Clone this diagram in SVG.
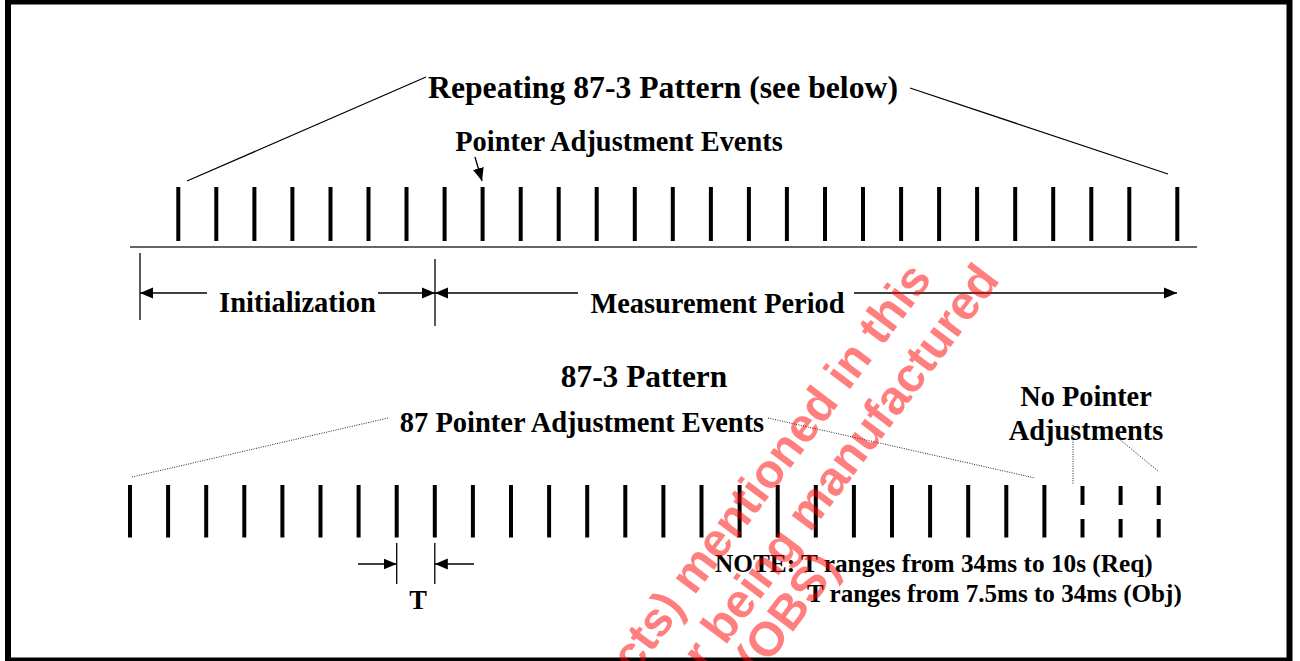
<svg xmlns="http://www.w3.org/2000/svg" width="1300" height="661" viewBox="0 0 1300 661">
<style>
  .lbl { font-family: "Liberation Serif", "Times New Roman", serif; font-weight: bold; fill: #000; }
  .tick { stroke: #000; stroke-width: 4; fill: none; }
  .thin { stroke: #000; stroke-width: 1.3; fill: none; }
  .axis { stroke: #333; stroke-width: 1.6; fill: none; }
  .dot { stroke: #222; stroke-width: 1; stroke-dasharray: 1 1.4; fill: none; }
  .wm { font-family: "Liberation Sans", Arial, sans-serif; font-weight: bold; font-size: 48px; fill: #ff0000; fill-opacity: 0.5; }
</style>
<defs>
  <marker id="ah" markerUnits="userSpaceOnUse" markerWidth="13" markerHeight="12" refX="13" refY="6" orient="auto">
    <path d="M0,0.5 L13,6 L0,11.5 z" fill="#000"/>
  </marker>
</defs>
<rect x="0" y="0" width="1300" height="661" fill="#fff"/>
<rect id="frame" x="8" y="1.5" width="1281.5" height="659" fill="none" stroke="#000" stroke-width="6"/>

<g id="top-ticks">
  <path class="tick" d="M178.3 187V241M216.3 187V241M254.4 187V241M292.4 187V241M330.5 187V241M368.5 187V241M406.5 187V241M444.6 187V241M482.6 187V241M520.7 187V241M558.7 187V241M596.7 187V241M634.8 187V241M672.8 187V241M710.9 187V241M748.9 187V241M786.9 187V241M825 187V241M863 187V241M901.1 187V241M939.1 187V241M977.1 187V241M1015.2 187V241M1053.2 187V241M1091.3 187V241M1129.3 187V241M1177.3 187V241"/>
  <line class="axis" x1="130" y1="247" x2="1197" y2="247"/>
</g>

<g id="title">
  <text class="lbl" x="663" y="97.5" font-size="31.7" text-anchor="middle">Repeating 87-3 Pattern (see below)</text>
</g>
<g id="pointer-label">
  <text class="lbl" x="619" y="151" font-size="28.4" text-anchor="middle">Pointer Adjustment Events</text>
</g>
<g id="initialization">
  <text class="lbl" x="297.5" y="312" font-size="28.5" text-anchor="middle">Initialization</text>
</g>
<g id="measurement">
  <text class="lbl" x="717.5" y="312.5" font-size="28.4" text-anchor="middle">Measurement Period</text>
</g>

<g id="bottom-ticks">
  <path class="tick" d="M130 485V537.5M168.1 485V537.5M206.2 485V537.5M244.3 485V537.5M282.4 485V537.5M320.5 485V537.5M358.6 485V537.5M396.7 485V537.5M434.8 485V537.5M472.9 485V537.5M511 485V537.5M549.1 485V537.5M587.2 485V537.5M625.3 485V537.5M663.4 485V537.5M701.5 485V537.5M739.6 485V537.5M777.7 485V537.5M815.8 485V537.5M853.9 485V537.5M892 485V537.5M930.1 485V537.5M968.2 485V537.5M1006.3 485V537.5M1044.4 485V537.5"/>
  <path class="tick" d="M1082.5 486V505M1082.5 519V537.5M1120.6 486V505M1120.6 519V537.5M1158.7 486V505M1158.7 519V537.5"/>
</g>

<g id="pattern-title">
  <text class="lbl" x="644" y="386.5" font-size="31.4" text-anchor="middle">87-3 Pattern</text>
</g>
<g id="pattern-events">
  <text class="lbl" x="582" y="432" font-size="28.5" text-anchor="middle">87 Pointer Adjustment Events</text>
</g>
<g id="no-pointer">
  <text class="lbl" x="1086" y="406" font-size="28.4" text-anchor="middle">No Pointer</text>
  <text class="lbl" x="1086" y="440" font-size="28.4" text-anchor="middle">Adjustments</text>
</g>
<g id="period-T">
  <text class="lbl" x="418" y="609" font-size="26.5" text-anchor="middle">T</text>
</g>
<g id="note">
  <text class="lbl" x="715" y="572" font-size="25.3">NOTE: T ranges from 34ms to 10s (Req)</text>
  <text class="lbl" x="807" y="602" font-size="25.1">T ranges from 7.5ms to 34ms (Obj)</text>
</g>

<g id="connectors">
  <line class="thin" x1="187" y1="181" x2="426" y2="77"/>
  <line class="thin" x1="910" y1="88" x2="1168" y2="174"/>
  <line class="thin" x1="475" y1="157" x2="482" y2="181" marker-end="url(#ah)"/>
  <line class="thin" x1="140" y1="253" x2="140" y2="320"/>
  <line class="thin" x1="435" y1="259" x2="435" y2="326"/>
  <line class="thin" x1="207" y1="293" x2="140" y2="293" marker-end="url(#ah)"/>
  <line class="thin" x1="378" y1="293" x2="435" y2="293" marker-end="url(#ah)"/>
  <line class="thin" x1="578" y1="293" x2="435" y2="293" marker-end="url(#ah)"/>
  <line class="thin" x1="854" y1="293" x2="1177" y2="293" marker-end="url(#ah)"/>
  <line class="dot" x1="132" y1="477" x2="388" y2="418"/>
  <line class="dot" x1="768" y1="418" x2="1035" y2="478"/>
  <line class="dot" x1="1073" y1="425" x2="1073" y2="485"/>
  <line class="dot" x1="1118" y1="438" x2="1158" y2="471"/>
  <line class="thin" x1="396.7" y1="543" x2="396.7" y2="584"/>
  <line class="thin" x1="434.8" y1="543" x2="434.8" y2="584"/>
  <line class="thin" x1="358" y1="564" x2="396.7" y2="564" marker-end="url(#ah)"/>
  <line class="thin" x1="474" y1="564" x2="434.8" y2="564" marker-end="url(#ah)"/>
</g>

<g id="watermark">
  <text class="wm" transform="translate(933,279) rotate(-53)" text-anchor="end">cts) mentioned in this</text>
  <text class="wm" transform="translate(1001,280) rotate(-53)" text-anchor="end">r being manufactured</text>
  <text class="wm" transform="translate(841,568) rotate(-53)" text-anchor="end">(OBS)</text>
</g>
</svg>
